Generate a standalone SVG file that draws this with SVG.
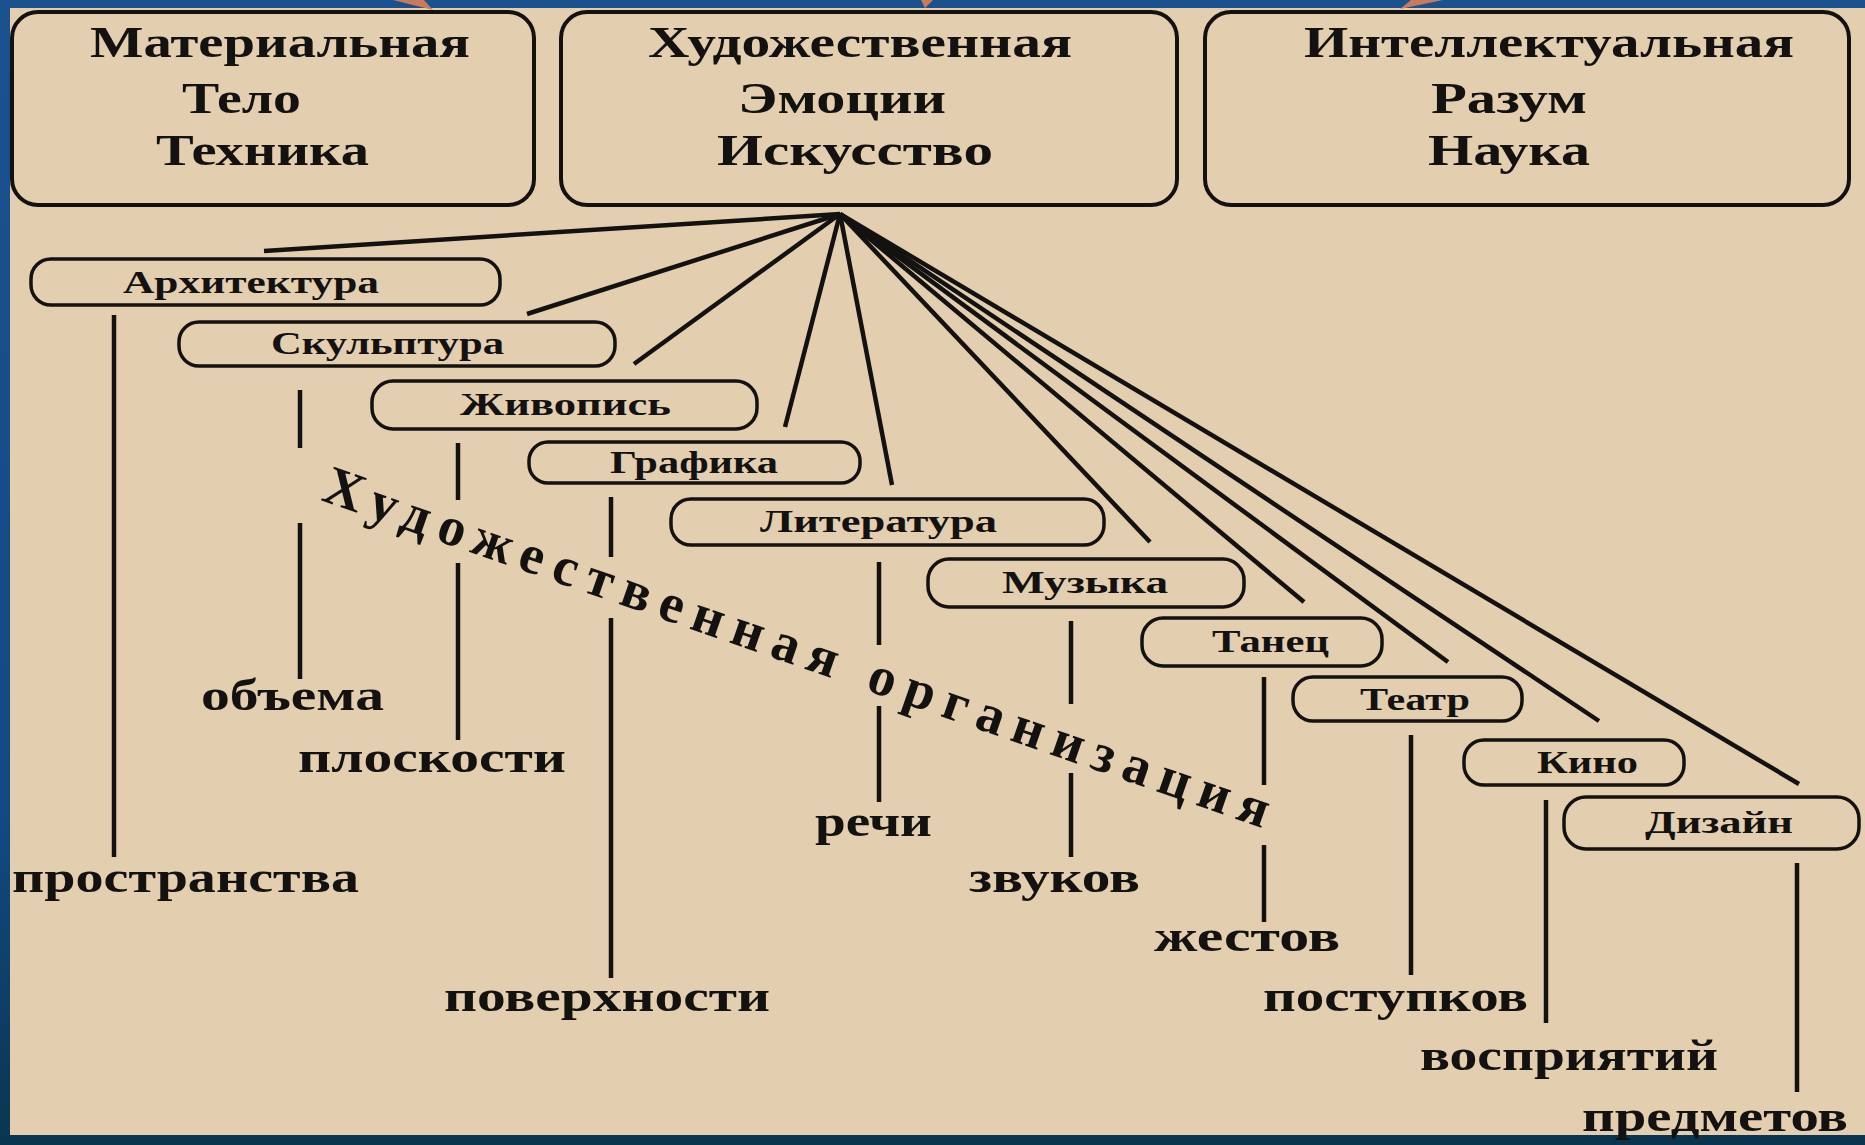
<svg xmlns="http://www.w3.org/2000/svg" width="1865" height="1145" viewBox="0 0 1865 1145">
<defs>
<linearGradient id="bg" x1="0" y1="0" x2="0" y2="1">
<stop offset="0" stop-color="#1c5190"/>
<stop offset="0.7" stop-color="#134a85"/>
<stop offset="1" stop-color="#0a3650"/>
</linearGradient>
<style>
.box{fill:none;stroke:#141210;stroke-width:4}
.pill{fill:none;stroke:#141210;stroke-width:3.5}
.ln{stroke:#141210;stroke-width:4.5;fill:none}
.vl{stroke:#141210;stroke-width:4.5;fill:none}
text{font-family:"Liberation Serif","Times New Roman",serif;font-weight:bold;fill:#141210}
.h{font-size:45px}
.n{font-size:31px}
.l{font-size:44px}
.d{font-size:55px}
.or{fill:#c9795c}
</style>
</defs>
<rect x="0" y="0" width="1865" height="1145" fill="url(#bg)"/>
<rect x="0" y="1135" width="1865" height="10" fill="#0a3550"/>
<rect x="10" y="8" width="1855" height="1127" fill="#e3cfb0"/>
<g id="orange-marks">
<polygon class="or" points="393,0 424,0 433,10"/>
<polygon class="or" points="921,0 933,0 925,8"/>
<polygon class="or" points="1400,9 1411,0 1443,0"/>
</g>

<g id="box-material">
<rect class="box" x="12" y="12" width="522" height="193" rx="26"/>
<text class="h" x="90" y="57" textLength="380" lengthAdjust="spacingAndGlyphs">Материальная</text>
<text class="h" x="182" y="113" textLength="119" lengthAdjust="spacingAndGlyphs">Тело</text>
<text class="h" x="156" y="165" textLength="213" lengthAdjust="spacingAndGlyphs">Техника</text>
</g>
<g id="box-art">
<rect class="box" x="561" y="12" width="616" height="193" rx="26"/>
<text class="h" x="648" y="57" textLength="424" lengthAdjust="spacingAndGlyphs">Художественная</text>
<text class="h" x="738" y="113" textLength="208" lengthAdjust="spacingAndGlyphs">Эмоции</text>
<text class="h" x="717" y="165" textLength="276" lengthAdjust="spacingAndGlyphs">Искусство</text>
</g>
<g id="box-intellect">
<rect class="box" x="1205" y="12" width="644" height="193" rx="26"/>
<text class="h" x="1304" y="57" textLength="490" lengthAdjust="spacingAndGlyphs">Интеллектуальная</text>
<text class="h" x="1431" y="113" textLength="156" lengthAdjust="spacingAndGlyphs">Разум</text>
<text class="h" x="1428" y="165" textLength="162" lengthAdjust="spacingAndGlyphs">Наука</text>
</g>

<g id="connectors">
<line class="ln" x1="840" y1="214" x2="264" y2="251"/>
<line class="ln" x1="840" y1="214" x2="527" y2="314"/>
<line class="ln" x1="840" y1="214" x2="634" y2="364"/>
<line class="ln" x1="840" y1="214" x2="785" y2="427"/>
<line class="ln" x1="840" y1="214" x2="892" y2="485"/>
<line class="ln" x1="840" y1="214" x2="1150" y2="542"/>
<line class="ln" x1="840" y1="214" x2="1304" y2="602"/>
<line class="ln" x1="840" y1="214" x2="1448" y2="662"/>
<line class="ln" x1="840" y1="214" x2="1599" y2="721"/>
<line class="ln" x1="840" y1="214" x2="1799" y2="784"/>
<line class="vl" x1="114" y1="315" x2="114" y2="857"/>
<line class="vl" x1="300" y1="390" x2="300" y2="448"/>
<line class="vl" x1="300" y1="523" x2="300" y2="679"/>
<line class="vl" x1="458" y1="443" x2="458" y2="500"/>
<line class="vl" x1="458" y1="563" x2="458" y2="740"/>
<line class="vl" x1="611" y1="497" x2="611" y2="557"/>
<line class="vl" x1="611" y1="618" x2="611" y2="978"/>
<line class="vl" x1="879" y1="562" x2="879" y2="645"/>
<line class="vl" x1="879" y1="706" x2="879" y2="802"/>
<line class="vl" x1="1071" y1="621" x2="1071" y2="704"/>
<line class="vl" x1="1071" y1="773" x2="1071" y2="857"/>
<line class="vl" x1="1264" y1="677" x2="1264" y2="785"/>
<line class="vl" x1="1264" y1="845" x2="1264" y2="922"/>
<line class="vl" x1="1411" y1="735" x2="1411" y2="975"/>
<line class="vl" x1="1546" y1="800" x2="1546" y2="1023"/>
<line class="vl" x1="1797" y1="863" x2="1797" y2="1092"/>
</g>

<g id="node-architecture">
<rect class="pill" x="31" y="259" width="469" height="46" rx="20"/>
<text class="n" x="123" y="293" textLength="256" lengthAdjust="spacingAndGlyphs">Архитектура</text>
<text class="l" x="12" y="892" textLength="347" lengthAdjust="spacingAndGlyphs">пространства</text>
</g>
<g id="node-sculpture">
<rect class="pill" x="179" y="322" width="436" height="44" rx="20"/>
<text class="n" x="271" y="354" textLength="233" lengthAdjust="spacingAndGlyphs">Скульптура</text>
<text class="l" x="201" y="710" textLength="183" lengthAdjust="spacingAndGlyphs">объема</text>
</g>
<g id="node-painting">
<rect class="pill" x="372" y="381" width="385" height="48" rx="21"/>
<text class="n" x="460" y="415" textLength="211" lengthAdjust="spacingAndGlyphs">Живопись</text>
<text class="l" x="298" y="772" textLength="268" lengthAdjust="spacingAndGlyphs">плоскости</text>
</g>
<g id="node-graphics">
<rect class="pill" x="529" y="442" width="331" height="41" rx="19"/>
<text class="n" x="610" y="473" textLength="168" lengthAdjust="spacingAndGlyphs">Графика</text>
<text class="l" x="444" y="1011" textLength="326" lengthAdjust="spacingAndGlyphs">поверхности</text>
</g>
<g id="node-literature">
<rect class="pill" x="671" y="499" width="433" height="46" rx="20"/>
<text class="n" x="760" y="532" textLength="237" lengthAdjust="spacingAndGlyphs">Литература</text>
<text class="l" x="815" y="836" textLength="117" lengthAdjust="spacingAndGlyphs">речи</text>
</g>
<g id="node-music">
<rect class="pill" x="928" y="559" width="316" height="48" rx="21"/>
<text class="n" x="1002" y="593" textLength="166" lengthAdjust="spacingAndGlyphs">Музыка</text>
<text class="l" x="969" y="892" textLength="171" lengthAdjust="spacingAndGlyphs">звуков</text>
</g>
<g id="node-dance">
<rect class="pill" x="1142" y="618" width="240" height="48" rx="21"/>
<text class="n" x="1212" y="652" textLength="117" lengthAdjust="spacingAndGlyphs">Танец</text>
<text class="l" x="1154" y="951" textLength="186" lengthAdjust="spacingAndGlyphs">жестов</text>
</g>
<g id="node-theatre">
<rect class="pill" x="1293" y="677" width="229" height="44" rx="20"/>
<text class="n" x="1360" y="710" textLength="110" lengthAdjust="spacingAndGlyphs">Театр</text>
<text class="l" x="1263" y="1011" textLength="265" lengthAdjust="spacingAndGlyphs">поступков</text>
</g>
<g id="node-cinema">
<rect class="pill" x="1464" y="740" width="220" height="45" rx="20"/>
<text class="n" x="1537" y="773" textLength="101" lengthAdjust="spacingAndGlyphs">Кино</text>
<text class="l" x="1420" y="1070" textLength="298" lengthAdjust="spacingAndGlyphs">восприятий</text>
</g>
<g id="node-design">
<rect class="pill" x="1564" y="797" width="295" height="52" rx="22"/>
<text class="n" x="1645" y="833" textLength="148" lengthAdjust="spacingAndGlyphs">Дизайн</text>
<text class="l" x="1582" y="1131" textLength="266" lengthAdjust="spacingAndGlyphs">предметов</text>
</g>

<g id="diagonal-label">
<text class="d" transform="translate(320,500) rotate(19.2)" x="0" y="0" textLength="998" lengthAdjust="spacing">Художественная организация</text>
</g>
</svg>
